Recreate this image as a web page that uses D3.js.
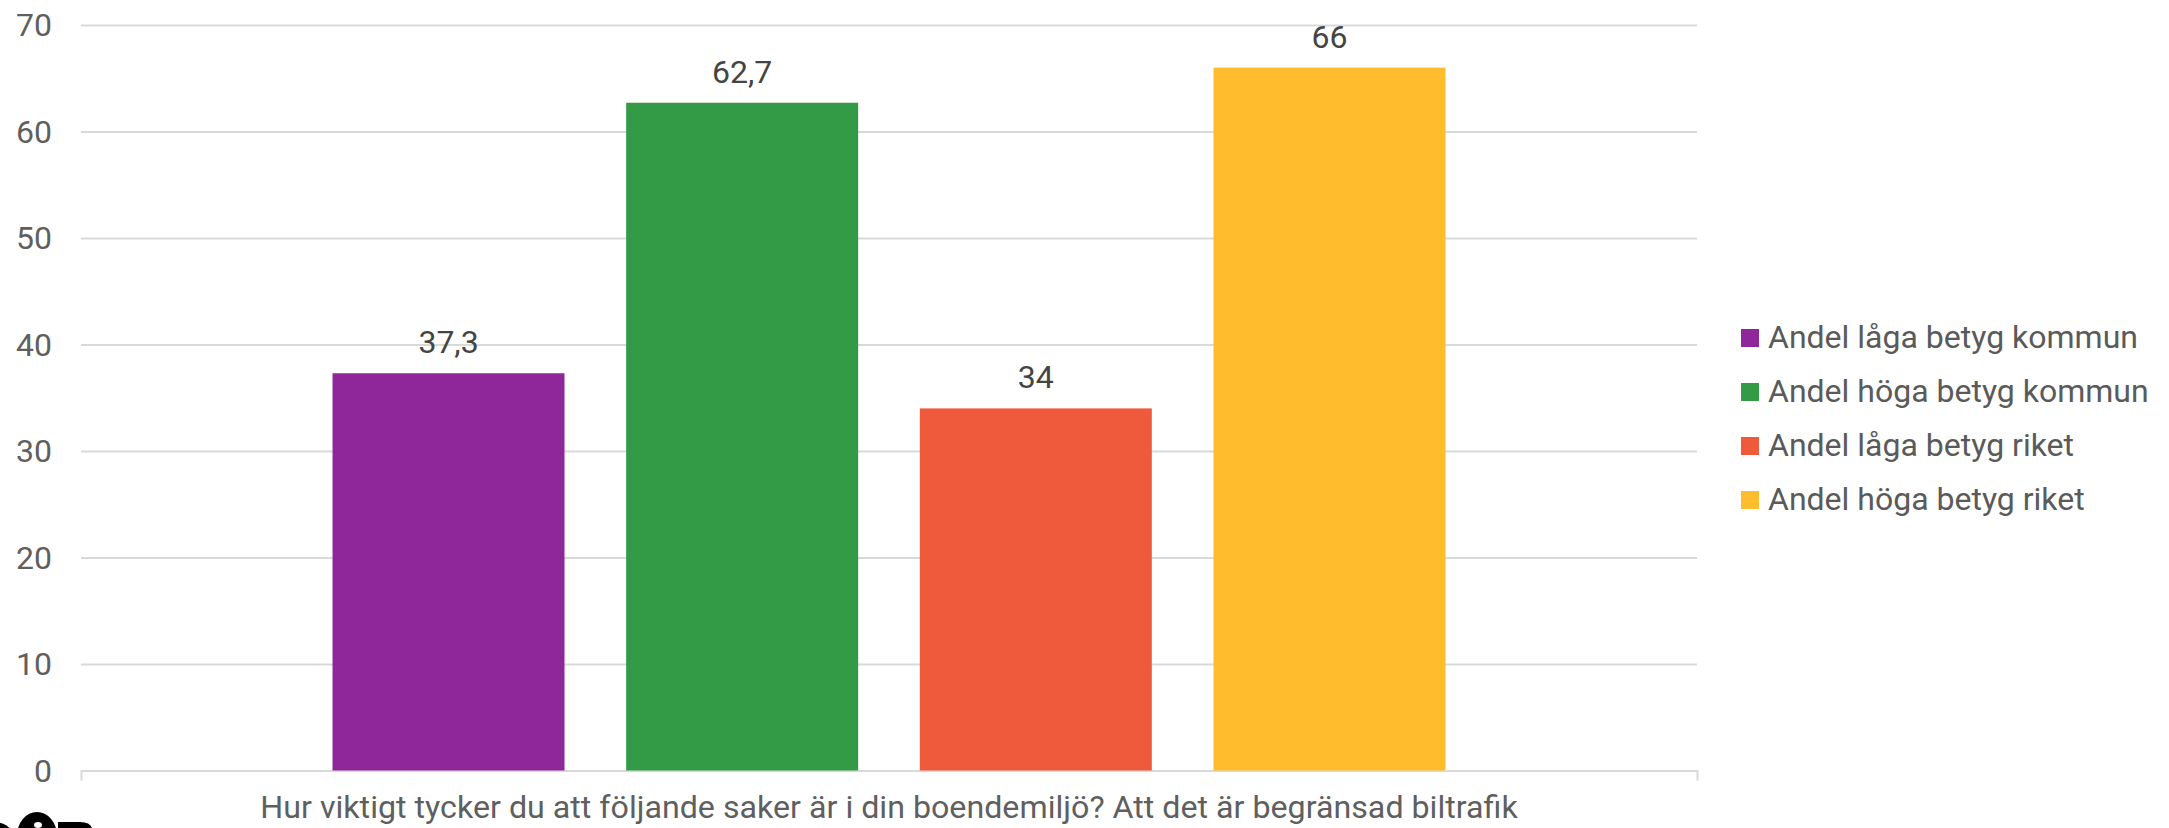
<!DOCTYPE html>
<html>
<head>
<meta charset="utf-8">
<script src="https://cdn.jsdelivr.net/npm/d3@7"></script>
<style>
  html, body { margin: 0; padding: 0; background: #fff; }
  svg { display: block; font-family: Roboto, "Noto Sans", sans-serif; }
</style>
</head>
<body>
<svg id="chart" width="2169" height="828"></svg>
<script>
const categories = ["Hur viktigt tycker du att följande saker är i din boendemiljö? Att det är begränsad biltrafik"];
const seriesNames = ["Andel låga betyg kommun", "Andel höga betyg kommun", "Andel låga betyg riket", "Andel höga betyg riket"];
const seriesValues = [37.3, 62.7, 34, 66];
const seriesLabels = ["37,3", "62,7", "34", "66"];
const seriesColors = ["#8f279b", "#339a45", "#f05a3c", "#ffbd2e"];
const yTicks = [0, 10, 20, 30, 40, 50, 60, 70];

(function () {
const svg = d3.select("#chart");
const plotLeft = 81, plotRight = 1697, plotTop = 25, plotBottom = 770.5;

const y = d3.scaleLinear().domain([0, 70]).range([plotBottom, plotTop]);
const x0 = d3.scaleBand().domain(categories).range([plotLeft, plotRight]).paddingOuter(0.226).paddingInner(0);
const x1 = d3.scaleBand().domain(seriesNames).range([0, x0.bandwidth()]).paddingInner(0.21).paddingOuter(0);
const color = d3.scaleOrdinal().domain(seriesNames).range(seriesColors);

// gridlines + y labels
const yAxis = svg.append("g")
  .attr("transform", `translate(${plotLeft},0)`)
  .call(d3.axisLeft(y).tickValues(yTicks).tickSize(-(plotRight - plotLeft)).tickPadding(29).tickFormat(d3.format("d")));
yAxis.select(".domain").remove();
yAxis.selectAll(".tick line").attr("stroke", "#d9d9d9").attr("stroke-width", 2)
  .filter(d => d === 0).remove();
yAxis.selectAll(".tick text").attr("fill", "#5f5f5f").attr("font-size", 32)
  .attr("font-family", "Roboto").attr("dy", "0.34em");

// x axis
const xAxis = svg.append("g")
  .attr("transform", `translate(0,${plotBottom})`)
  .call(d3.axisBottom(x0).tickSizeInner(0).tickSizeOuter(10).tickPadding(0));
xAxis.select(".domain").attr("stroke", "#d9d9d9").attr("stroke-width", 2).attr("fill", "none");
xAxis.selectAll(".tick text").attr("fill", "#5f5f5f").attr("font-size", 32.2)
  .attr("font-family", "Roboto").attr("dy", 0).attr("y", 47);

// bars
const g = svg.append("g");
const data = seriesNames.map((s, i) => ({ series: s, value: seriesValues[i], label: seriesLabels[i], cat: categories[0] }));
g.selectAll("rect.bar").data(data).join("rect")
  .attr("class", "bar")
  .attr("x", d => x0(d.cat) + x1(d.series))
  .attr("y", d => y(d.value))
  .attr("width", x1.bandwidth())
  .attr("height", d => y(0) - y(d.value))
  .attr("fill", d => color(d.series));

g.selectAll("text.val").data(data).join("text")
  .attr("class", "val")
  .attr("x", d => x0(d.cat) + x1(d.series) + x1.bandwidth() / 2)
  .attr("y", d => y(d.value) - 20)
  .attr("text-anchor", "middle")
  .attr("font-size", 32)
  .attr("fill", "#444")
  .text(d => d.label);

// legend
const legend = svg.append("g").attr("transform", "translate(1741,329)");
const items = legend.selectAll("g").data(seriesNames).join("g")
  .attr("transform", (d, i) => `translate(0,${i * 54})`);
items.append("rect").attr("width", 18).attr("height", 18).attr("fill", d => color(d));
items.append("text").attr("x", 27).attr("y", 19).attr("font-size", 32).attr("fill", "#5a5a5a").text(d => d);

// partial logo at the bottom-left corner (cut off)
const logo = svg.append("g").attr("fill", "#000");
logo.append("circle").attr("cx", -5).attr("cy", 842).attr("r", 20);
logo.append("ellipse").attr("cx", 37).attr("cy", 836).attr("rx", 20).attr("ry", 24);
logo.append("ellipse").attr("cx", 38).attr("cy", 825).attr("rx", 4).attr("ry", 3).attr("fill", "#fff");
logo.append("path").attr("d", "M58,828 V822 H80 Q90,822 92,828 Z");
})();
</script>
</body>
</html>
